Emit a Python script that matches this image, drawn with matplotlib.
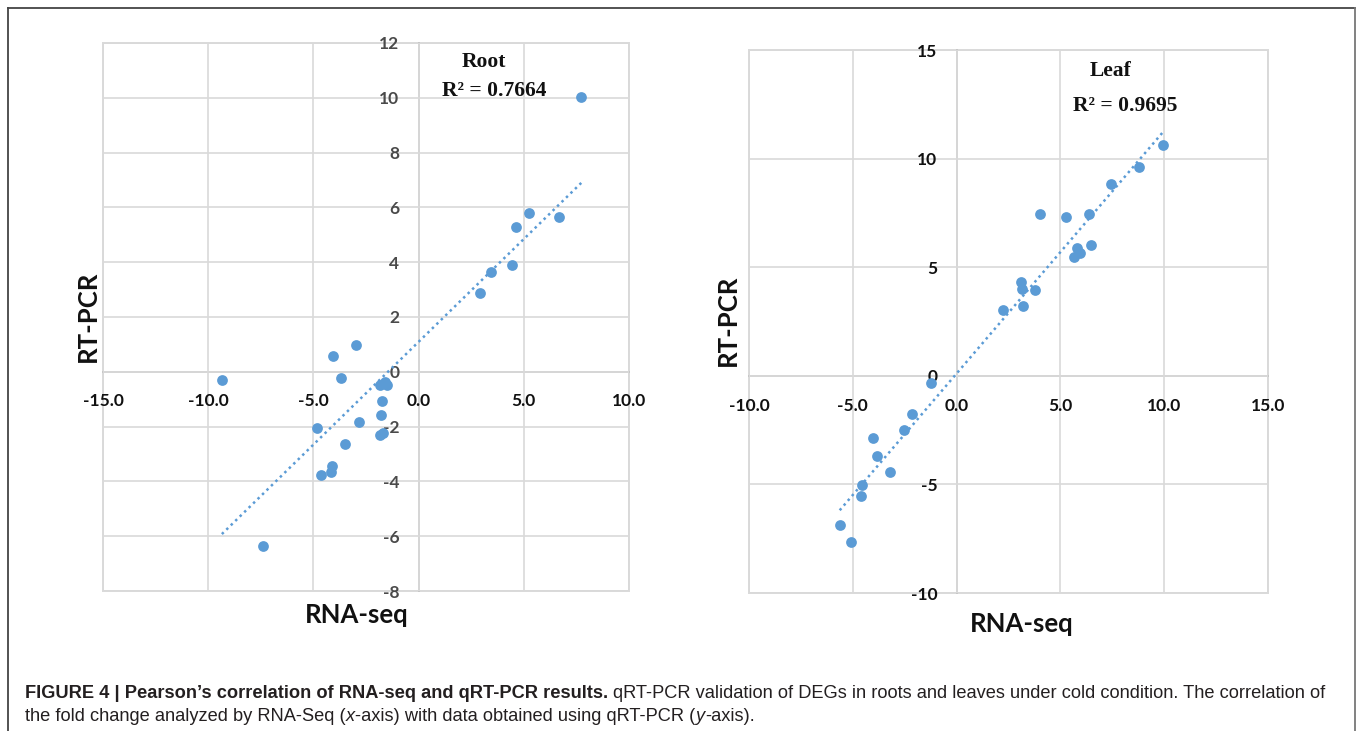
import numpy as np
import matplotlib
matplotlib.use("Agg")
import matplotlib.pyplot as plt
from matplotlib.patches import Rectangle
from matplotlib.lines import Line2D
from matplotlib.ticker import FormatStrFormatter

# ---------------- data ----------------
root_rnaseq = [-9.35, -7.39, -4.07, -2.96, -3.70, -1.85, -1.60, -1.50, -1.74, -1.81,
               -4.82, -2.82, -1.85, -1.69, -3.49, -4.12, -4.17, -4.63,
               7.73, 5.23, 4.61, 6.69, 4.42, 3.43, 2.90]
root_qpcr = [-0.30, -6.35, 0.59, 0.97, -0.21, -0.50, -0.38, -0.48, -1.05, -1.56,
             -2.06, -1.83, -2.30, -2.24, -2.65, -3.45, -3.64, -3.78,
             10.04, 5.78, 5.27, 5.64, 3.91, 3.64, 2.86]

leaf_rnaseq = [9.94, 8.79, 7.44, 4.04, 5.26, 6.38, 6.47, 5.79, 5.94, 5.64,
               3.11, 3.16, 3.79, 3.20, 2.22,
               -1.25, -2.13, -2.52, -4.01, -3.84, -3.20, -4.58, -4.61, -5.63, -5.09]
leaf_qpcr = [10.64, 9.60, 8.85, 7.46, 7.29, 7.46, 6.03, 5.87, 5.64, 5.48,
             4.33, 3.98, 3.94, 3.23, 3.02,
             -0.31, -1.78, -2.48, -2.87, -3.67, -4.43, -5.05, -5.55, -6.86, -7.65]

root_title = "Root"
leaf_title = "Leaf"
root_r2_label = "R\u00b2 = 0.7664"
leaf_r2_label = "R\u00b2 = 0.9695"

root_xticks = [-15, -10, -5, 0, 5, 10]
root_yticks = [-8, -6, -4, -2, 0, 2, 4, 6, 8, 10, 12]
leaf_xticks = [-10, -5, 0, 5, 10, 15]
leaf_yticks = [-10, -5, 0, 5, 10, 15]

x_label = "RNA-seq"
y_label = "RT-PCR"

caption_bold = "FIGURE 4 | Pearson\u2019s correlation of RNA-seq and qRT-PCR results."
caption_l1 = "qRT-PCR validation of DEGs in roots and leaves under cold condition. The correlation of"
caption_l2 = ["the fold change analyzed by RNA-Seq (", "x",
              "-axis) with data obtained using qRT-PCR (", "y", "-axis)."]

# ---------------- style ----------------
W, H = 1357, 731
DPI = 100
BLUE = "#5b9bd5"
GRID = "#d9d9d9"
AXIS = "#bfbfbf"
TICKFONT = "Lato"
SERIF = "Liberation Serif"
CAPFONT = "Liberation Sans"

fig = plt.figure(figsize=(W / DPI, H / DPI), dpi=DPI)
fig.patch.set_facecolor("white")


def fx(px):
    return px / W


def fy(py):
    return 1 - py / H


def add_axes_px(x0, x1, ytop, ybot):
    return fig.add_axes([fx(x0), fy(ybot), (x1 - x0) / W, (ybot - ytop) / H])


def make_panel(ax, xs, ys, xticks, yticks, ylabcolor, title, r2, tpos, rpos, xpad, ypad):
    ax.set_xlim(xticks[0], xticks[-1])
    ax.set_ylim(yticks[0], yticks[-1])
    ax.set_xticks(xticks)
    ax.set_yticks(yticks)
    ax.xaxis.set_major_formatter(FormatStrFormatter("%.1f"))
    ax.yaxis.set_major_formatter(FormatStrFormatter("%d"))
    ax.grid(True, color=GRID, lw=1.2)
    ax.set_axisbelow(True)
    for s in ["top", "right"]:
        ax.spines[s].set_visible(False)
    ax.spines["left"].set_position(("data", 0))
    ax.spines["bottom"].set_position(("data", 0))
    for s in ["left", "bottom"]:
        ax.spines[s].set_color(AXIS)
        ax.spines[s].set_linewidth(1.2)
        ax.spines[s].set_zorder(0.5)
    ax.add_patch(Rectangle((0, 0), 1, 1, transform=ax.transAxes, fill=False,
                           edgecolor=GRID, lw=1.4, clip_on=False, zorder=0.4))
    ax.tick_params(axis="x", length=0, pad=xpad)
    ax.tick_params(axis="y", length=0, pad=ypad)
    for lab in ax.get_xticklabels():
        lab.set_fontfamily(TICKFONT)
        lab.set_fontweight("bold")
        lab.set_fontsize(12.5)
        lab.set_color("#111111")
    for lab in ax.get_yticklabels():
        lab.set_fontfamily(TICKFONT)
        lab.set_fontweight("bold")
        lab.set_fontsize(12.5)
        lab.set_color(ylabcolor)
    ax.scatter(xs, ys, s=60, color=BLUE, linewidths=0, zorder=3, clip_on=False)
    xa = np.asarray(xs)
    ya = np.asarray(ys)
    k, b = np.polyfit(xa, ya, 1)
    xl = np.array([xa.min(), xa.max()])
    ax.plot(xl, k * xl + b, color=BLUE, lw=1.8, ls=(0, (1, 1.5)), zorder=2)
    ax.text(tpos[0], tpos[1], title, family=SERIF, weight="bold", fontsize=15.5,
            ha="center", va="center", color="#111111")
    ax.text(rpos[0], rpos[1], r2, family=SERIF, weight="bold", fontsize=15.5,
            ha="center", va="center", color="#111111")


ax1 = add_axes_px(103, 629, 43, 591)
make_panel(ax1, root_rnaseq, root_qpcr, root_xticks, root_yticks, "#4a4a4a",
           root_title, root_r2_label, (3.1, 11.3), (3.6, 10.25), 15, 14)

ax2 = add_axes_px(749, 1268, 50, 593)
make_panel(ax2, leaf_rnaseq, leaf_qpcr, leaf_xticks, leaf_yticks, "#111111",
           leaf_title, leaf_r2_label, (7.4, 14.05), (8.1, 12.4), 16, 14)

# axis titles
for (cx, by) in [(357, 623), (1022, 632)]:
    fig.text(fx(cx), fy(by), x_label, family=TICKFONT, weight="bold", fontsize=18.5,
             ha="center", va="baseline", color="#111111")
for (cx, cy) in [(88, 316), (728, 320)]:
    fig.text(fx(cx), fy(cy), y_label, family=TICKFONT, weight="bold", fontsize=18.5,
             ha="center", va="center", rotation=90, color="#111111")

# outer frame
fig.add_artist(Line2D([fx(8), fx(1355)], [fy(8), fy(8)], color="#444444", lw=1.3))
fig.add_artist(Line2D([fx(8), fx(8)], [fy(8), fy(731)], color="#444444", lw=1.3))
fig.add_artist(Line2D([fx(1355), fx(1355)], [fy(8), fy(731)], color="#777777", lw=1.3))

# caption (runs placed one after another)
renderer = fig.canvas.get_renderer()


def draw_runs(x0, base_y, runs, size):
    x = x0
    arts = []
    for txt, weight, style, gap in runs:
        x += gap * size * DPI / 72.0
        t = fig.text(fx(x), fy(base_y), txt, family=CAPFONT, weight=weight, style=style,
                     fontsize=size, ha="left", va="baseline", color="#231f20")
        bb = t.get_window_extent(renderer)
        x = bb.x1
        arts.append(t)
    return x, arts


line1 = [(caption_bold, "bold", "normal", 0.0), (caption_l1, "normal", "normal", 0.278)]
line2 = [(caption_l2[0], "normal", "normal", 0.0), (caption_l2[1], "normal", "italic", 0.0),
         (caption_l2[2], "normal", "normal", 0.02), (caption_l2[3], "normal", "italic", 0.0),
         (caption_l2[4], "normal", "normal", 0.02)]

size = 11.5
xend, arts = draw_runs(25, 698, line1, size)
for a in arts:
    a.remove()
size = size * (1330 - 25) / (xend - 25)
draw_runs(25, 698, line1, size)
draw_runs(25, 721, line2, size)

fig.savefig("out.png", dpi=DPI, facecolor="white")
